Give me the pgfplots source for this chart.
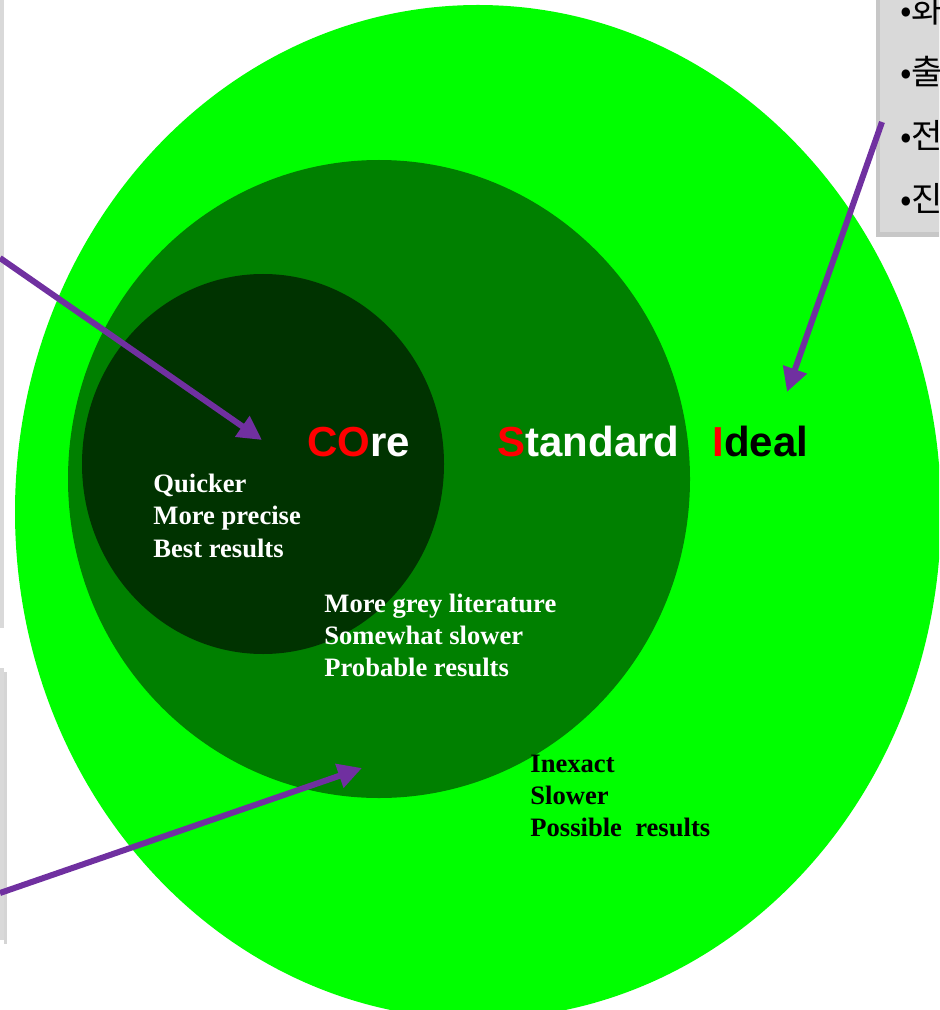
\documentclass[border=0pt]{standalone}
\usepackage{pgfplots}
\pgfplotsset{compat=1.18}
\usetikzlibrary{arrows.meta}
\usepackage{fontspec}
\setmainfont{Liberation Serif}
\newfontfamily\titlefont{Liberation Sans}
\newfontfamily\kofont{Noto Sans CJK KR}
\definecolor{lgreen}{RGB}{0,255,0}
\definecolor{mgreen}{RGB}{0,128,0}
\definecolor{dgreen}{RGB}{0,51,0}
\definecolor{arrowpurple}{RGB}{112,48,160}
\definecolor{boxgrey}{RGB}{217,217,217}
\definecolor{shadowgrey}{RGB}{185,185,185}
\definecolor{red}{RGB}{255,0,0}
\begin{document}
\begin{tikzpicture}
\begin{axis}[name=ax, scale only axis, width=469.5pt, height=505pt,
  xmin=0, xmax=939, ymin=0, ymax=1010, y dir=reverse, hide axis, clip=true]
% left boxes (edges visible)
\fill[boxgrey] (axis cs:-20,0) rectangle (axis cs:3.5,628);
\fill[shadowgrey!60] (axis cs:3.5,672) rectangle (axis cs:7,944);
\fill[boxgrey] (axis cs:-20,668) rectangle (axis cs:3.5,940);
% nested circles
\fill[lgreen] (axis cs:478,512) ellipse [x radius=463, y radius=507];
\fill[mgreen] (axis cs:379,479) ellipse [x radius=311, y radius=319];
\fill[dgreen] (axis cs:263,464) ellipse [x radius=181, y radius=190];
% top-right box
\fill[shadowgrey!80] (axis cs:876,-10) rectangle (axis cs:950,237);
\fill[boxgrey] (axis cs:880,-10) rectangle (axis cs:950,232);
% arrows
\addplot[arrowpurple, line width=3pt, -{Triangle[length=12pt,width=12pt]}] coordinates {(0,258) (262,440)};
\addplot[arrowpurple, line width=3pt, -{Triangle[length=12pt,width=12pt]}] coordinates {(882,122) (787,392)};
\addplot[arrowpurple, line width=3pt, -{Triangle[length=12pt,width=12pt]}] coordinates {(0,893) (362,768)};
% titles
\node[anchor=base west, inner sep=0, font=\titlefont\bfseries\fontsize{21pt}{25pt}\selectfont] at (axis cs:307,456) {\textcolor{red}{CO}\textcolor{white}{re}};
\node[anchor=base west, inner sep=0, font=\titlefont\bfseries\fontsize{21pt}{25pt}\selectfont] at (axis cs:497,456) {\textcolor{red}{S}\textcolor{white}{tandard}};
\node[anchor=base west, inner sep=0, font=\titlefont\bfseries\fontsize{21pt}{25pt}\selectfont] at (axis cs:712,456) {\textcolor{red}{I}\textcolor{black}{deal}};
% descriptions
\node[anchor=base west, inner sep=0, text=white, font=\bfseries\fontsize{13.3pt}{16pt}\selectfont] at (axis cs:153,492) {Quicker};
\node[anchor=base west, inner sep=0, text=white, font=\bfseries\fontsize{13.3pt}{16pt}\selectfont] at (axis cs:153,524) {More precise};
\node[anchor=base west, inner sep=0, text=white, font=\bfseries\fontsize{13.3pt}{16pt}\selectfont] at (axis cs:153,557) {Best results};
\node[anchor=base west, inner sep=0, text=white, font=\bfseries\fontsize{13.3pt}{16pt}\selectfont] at (axis cs:324,612) {More grey literature};
\node[anchor=base west, inner sep=0, text=white, font=\bfseries\fontsize{13.3pt}{16pt}\selectfont] at (axis cs:324,644) {Somewhat slower};
\node[anchor=base west, inner sep=0, text=white, font=\bfseries\fontsize{13.3pt}{16pt}\selectfont] at (axis cs:324,676) {Probable results};
\node[anchor=base west, inner sep=0, text=black, font=\bfseries\fontsize{13.3pt}{16pt}\selectfont] at (axis cs:530,772) {Inexact};
\node[anchor=base west, inner sep=0, text=black, font=\bfseries\fontsize{13.3pt}{16pt}\selectfont] at (axis cs:530,804) {Slower};
\node[anchor=base west, inner sep=0, text=black, font=\bfseries\fontsize{13.3pt}{16pt}\selectfont] at (axis cs:530,836) {Possible\ \ results};
% Korean list (cut by the page edge, as in the reference)
\node[anchor=west, inner sep=0, font=\kofont\fontsize{17pt}{20pt}\selectfont] at (axis cs:900,10) {•화};
\node[anchor=west, inner sep=0, font=\kofont\fontsize{17pt}{20pt}\selectfont] at (axis cs:900,72) {•출};
\node[anchor=west, inner sep=0, font=\kofont\fontsize{17pt}{20pt}\selectfont] at (axis cs:900,135) {•전};
\node[anchor=west, inner sep=0, font=\kofont\fontsize{17pt}{20pt}\selectfont] at (axis cs:900,198) {•진};
\end{axis}
\pgfresetboundingbox
\useasboundingbox (ax.south west) rectangle (ax.north east);
\end{tikzpicture}
\end{document}
